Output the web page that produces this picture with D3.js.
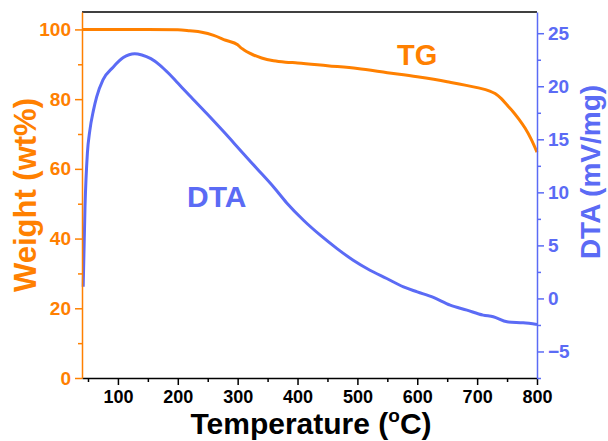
<!DOCTYPE html>
<html><head><meta charset="utf-8">
<script src="https://cdn.jsdelivr.net/npm/d3@7"></script>
<style>body{margin:0;background:#fff}svg{display:block}text{font-family:"Liberation Sans",Arial,sans-serif;font-weight:bold}</style>
</head><body><svg id="c" width="608" height="441"></svg>
<script>
const tgTemp = [40,100,150,200,220,240,260,280,300,305,310,320,340,360,380,400,450,500,550,600,650,700,720,730,740,750,760,770,780,790,800];
const tgWeight = [100,100,100,99.9,99.6,99.2,98.3,96.9,95.6,94.8,94.2,93.2,91.8,91.0,90.6,90.4,89.6,88.8,87.6,86.4,85.0,83.3,82.4,81.6,80.2,78.3,76.4,74.2,71.7,68.6,64.8];
const dtaTemp = [42,45,49,53,59,64.5,75,92,109,128,140,155,170,185,200,220,248,276,304,332,360,382,410,438,466,493,521,549,577,600,627,655,683,710,727,750,777,800];
const dtaValue = [1.1,8.6,13.7,15.8,17.7,19.0,20.6,21.8,22.7,23.07,22.95,22.6,22.0,21.2,20.3,19.1,17.45,15.75,14.0,12.25,10.5,9.0,7.37,5.96,4.7,3.6,2.66,1.88,1.09,0.62,0.09,-0.63,-1.1,-1.57,-1.73,-2.2,-2.3,-2.45];
const xTicks = [100,200,300,400,500,600,700,800];
const yLeftTicks = [0,20,40,60,80,100];
const yRightTicks = [-5,0,5,10,15,20,25];

const W=608,H=441,m={l:82,r:71,t:12,b:63};
const orange="#ff8000", blue="#5b6bf5";
const svg=d3.select("#c");
const x=d3.scaleLinear().domain([40,800]).range([m.l,W-m.r]);
const yL=d3.scaleLinear().domain([0,105]).range([H-m.b,m.t]);
const yR=d3.scaleLinear().domain([-7.5,27]).range([H-m.b,m.t]);

svg.append("line").attr("x1",m.l).attr("x2",W-m.r).attr("y1",m.t).attr("y2",m.t).attr("stroke","#000").attr("stroke-width",1.5);

svg.append("path").datum(dtaTemp.map((t,i)=>[t,dtaValue[i]]))
  .attr("fill","none").attr("stroke",blue).attr("stroke-width",3)
  .attr("d",d3.line().x(d=>x(d[0])).y(d=>yR(d[1])).curve(d3.curveMonotoneX));
svg.append("path").datum(tgTemp.map((t,i)=>[t,tgWeight[i]]))
  .attr("fill","none").attr("stroke",orange).attr("stroke-width",3)
  .attr("d",d3.line().x(d=>x(d[0])).y(d=>yL(d[1])).curve(d3.curveMonotoneX));

function styleAxis(g,color,fs){
  g.select(".domain").attr("stroke",color).attr("stroke-width",1.5);
  g.selectAll(".tick line").attr("stroke",color).attr("stroke-width",1.5);
  g.selectAll(".tick text").attr("fill",color).style("font-size",fs+"px").style("font-weight","bold");
}
svg.append("g").attr("transform",`translate(0,${H-m.b})`)
  .call(d3.axisBottom(x).tickValues(d3.range(50,800,100)).tickSize(4).tickFormat(""))
  .call(g=>{g.select(".domain").remove();g.selectAll("line").attr("stroke","#000").attr("stroke-width",1.5);});
const gx=svg.append("g").attr("transform",`translate(0,${H-m.b})`)
  .call(d3.axisBottom(x).tickValues(xTicks).tickSize(7).tickSizeOuter(0).tickPadding(5));
styleAxis(gx,"#000",18);

svg.append("g").attr("transform",`translate(${m.l},0)`)
  .call(d3.axisLeft(yL).tickValues([10,30,50,70,90]).tickSize(4).tickFormat(""))
  .call(g=>{g.select(".domain").remove();g.selectAll("line").attr("stroke",orange).attr("stroke-width",1.5);});
const gl=svg.append("g").attr("transform",`translate(${m.l},0)`)
  .call(d3.axisLeft(yL).tickValues(yLeftTicks).tickSize(7).tickSizeOuter(0).tickPadding(4));
styleAxis(gl,orange,19);

svg.append("g").attr("transform",`translate(${W-m.r},0)`)
  .call(d3.axisRight(yR).tickValues([-7.5,-2.5,2.5,7.5,12.5,17.5,22.5]).tickSize(4).tickFormat(""))
  .call(g=>{g.select(".domain").remove();g.selectAll("line").attr("stroke",blue).attr("stroke-width",1.5);});
const gr=svg.append("g").attr("transform",`translate(${W-m.r},0)`)
  .call(d3.axisRight(yR).tickValues(yRightTicks).tickSize(7).tickSizeOuter(0).tickPadding(4));
styleAxis(gr,blue,19);

const xt=svg.append("text").attr("x",311).attr("y",434).attr("text-anchor","middle")
  .style("font-size","30px").attr("fill","#000");
xt.append("tspan").text("Temperature (");
xt.append("tspan").text("o").style("font-size","19px").attr("dy","-12");
xt.append("tspan").text("C)").attr("dy","12");

svg.append("text").attr("transform","translate(36,195) rotate(-90)").attr("text-anchor","middle")
  .style("font-size","31px").attr("fill",orange).text("Weight (wt%)");
svg.append("text").attr("transform","translate(600,172) rotate(-90)").attr("text-anchor","middle")
  .style("font-size","28px").attr("fill",blue).text("DTA (mV/mg)");

svg.append("text").attr("x",x(600)).attr("y",65).attr("text-anchor","middle").style("font-size","29px").attr("fill",orange).text("TG");
svg.append("text").attr("x",x(265)).attr("y",207).attr("text-anchor","middle").style("font-size","30px").attr("fill",blue).text("DTA");
</script></body></html>
